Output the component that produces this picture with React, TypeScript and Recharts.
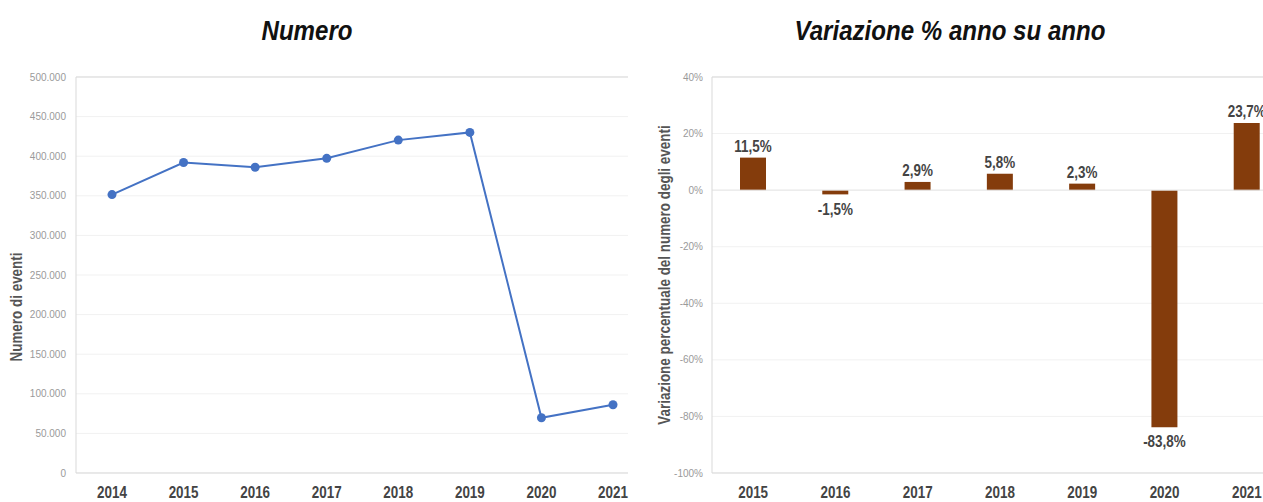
import React from "react"
import {
  LineChart,
  Line,
  BarChart,
  Bar,
  XAxis,
  YAxis,
  CartesianGrid,
  ReferenceLine,
  LabelList,
} from "recharts"

const years = ["2014", "2015", "2016", "2017", "2018", "2019", "2020", "2021"]
const events = [351500, 392000, 386100, 397300, 420300, 430000, 69700, 86200]
const countTicks = [0, 50000, 100000, 150000, 200000, 250000, 300000, 350000, 400000, 450000, 500000]

const changeYears = ["2015", "2016", "2017", "2018", "2019", "2020", "2021"]
const changes = [11.5, -1.5, 2.9, 5.8, 2.3, -83.8, 23.7]
const changeTicks = [-100, -80, -60, -40, -20, 0, 20, 40]

const countData = years.map((y, i) => ({ name: y, value: events[i] }))
const changeData = changeYears.map((y, i) => ({ name: y, value: changes[i] }))

const SANS = "'Liberation Sans', Arial, sans-serif"
// the source uses a condensed face; squeeze Liberation Sans horizontally instead
const SQUEEZE = 0.84

const thousands = (v: number) => String(v).replace(/\B(?=(\d{3})+(?!\d))/g, ".")
const pct = (v: number) => `${v.toFixed(1).replace(".", ",")}%`

const NarrowTick = (props: any) => {
  const { x, y, payload } = props
  return (
    <g transform={`translate(${x},${y})`}>
      <text
        transform={`scale(${SQUEEZE},1)`}
        textAnchor="middle"
        dy="0.71em"
        fontFamily={SANS}
        fontWeight="bold"
        fontSize={16}
        fill="#444"
      >
        {payload.value}
      </text>
    </g>
  )
}

const BarValue = (props: any) => {
  const { x, y, width, height, value } = props
  const top = Math.min(y, y + height)
  const bottom = Math.max(y, y + height)
  const neg = Number(value) < 0
  return (
    <g transform={`translate(${x + width / 2},${neg ? bottom + 5 : top - 2})`}>
      <text
        transform={`scale(${SQUEEZE},1)`}
        textAnchor="middle"
        dy={neg ? "0.95em" : "-0.25em"}
        fontFamily={SANS}
        fontWeight="bold"
        fontSize={16}
        fill="#444"
      >
        {pct(Number(value))}
      </text>
    </g>
  )
}

// rotated axis title, placed relative to the axis box
const axisTitle = (text: string, x: number, dy: number) => (props: any) => {
  const vb = props.viewBox || { x: 0, y: 0, width: 0, height: 0 }
  const cx = vb.x + x
  const cy = vb.y + vb.height / 2 + dy
  return (
    <text
      transform={`translate(${cx},${cy}) rotate(-90) scale(${SQUEEZE},1)`}
      textAnchor="middle"
      dominantBaseline="central"
      fontFamily={SANS}
      fontWeight="bold"
      fontSize={16}
      fill="#555"
    >
      {text}
    </text>
  )
}

const titleStyle = (center: number): React.CSSProperties => ({
  position: "absolute",
  top: 17,
  left: center - 250,
  width: 500,
  textAlign: "center",
  fontFamily: SANS,
  fontStyle: "italic",
  fontWeight: "bold",
  fontSize: 28,
  lineHeight: "28px",
  color: "#111",
  transform: "scaleX(0.86)",
})

const yTick = { fontFamily: SANS, fontSize: 10, fill: "#9a9a9a" }

export default function App() {
  return (
    <div
      style={{
        position: "fixed",
        left: 0,
        top: 0,
        width: 1263,
        height: 502,
        overflow: "hidden",
        background: "#fff",
        fontFamily: SANS,
      }}
    >
      <div style={titleStyle(307)}>Numero</div>
      <div style={titleStyle(950)}>Variazione % anno su anno</div>

      <div style={{ position: "absolute", left: 0, top: 0 }}>
        <LineChart width={640} height={502} data={countData} margin={{ top: 77, right: 12, bottom: 0, left: 0 }}>
          <CartesianGrid vertical={false} stroke="#f1f1f1" />
          <XAxis
            dataKey="name"
            height={29}
            padding={{ left: 36, right: 15 }}
            tickLine={false}
            tickSize={6}
            tickMargin={8}
            axisLine={{ stroke: "#d9d9d9" }}
            tick={NarrowTick}
            interval={0}
          />
          <YAxis
            width={76}
            domain={[0, 500000]}
            ticks={countTicks}
            tickFormatter={thousands}
            tickLine={false}
            tickSize={4}
            tickMargin={6}
            axisLine={{ stroke: "#d9d9d9" }}
            tick={yTick}
            label={{ content: axisTitle("Numero di eventi", 17, 32) }}
          />
          <ReferenceLine y={500000} stroke="#d9d9d9" />
          <Line
            type="linear"
            dataKey="value"
            stroke="#4472c4"
            strokeWidth={2}
            dot={{ r: 4.5, fill: "#4472c4", stroke: "#4472c4", strokeWidth: 0 }}
            isAnimationActive={false}
          />
        </LineChart>
      </div>

      <div style={{ position: "absolute", left: 640, top: 0 }}>
        <BarChart width={650} height={502} data={changeData} margin={{ top: 77, right: 2, bottom: 0, left: 0 }}>
          <CartesianGrid vertical={false} stroke="#f1f1f1" />
          <XAxis
            dataKey="name"
            height={29}
            tickLine={false}
            tickSize={6}
            tickMargin={8}
            axisLine={{ stroke: "#d9d9d9" }}
            tick={NarrowTick}
            interval={0}
          />
          <YAxis
            width={72}
            domain={[-100, 40]}
            ticks={changeTicks}
            tickFormatter={(v: number) => `${v}%`}
            tickLine={false}
            tickSize={4}
            tickMargin={5}
            axisLine={{ stroke: "#d9d9d9" }}
            tick={yTick}
            label={{ content: axisTitle("Variazione percentuale del numero degli eventi", 25, 0) }}
          />
          <ReferenceLine y={40} stroke="#d9d9d9" />
          <ReferenceLine y={0} stroke="#e6e6e6" />
          <Bar dataKey="value" fill="#843c0c" barSize={26} isAnimationActive={false}>
            <LabelList dataKey="value" content={BarValue} />
          </Bar>
        </BarChart>
      </div>
    </div>
  )
}
